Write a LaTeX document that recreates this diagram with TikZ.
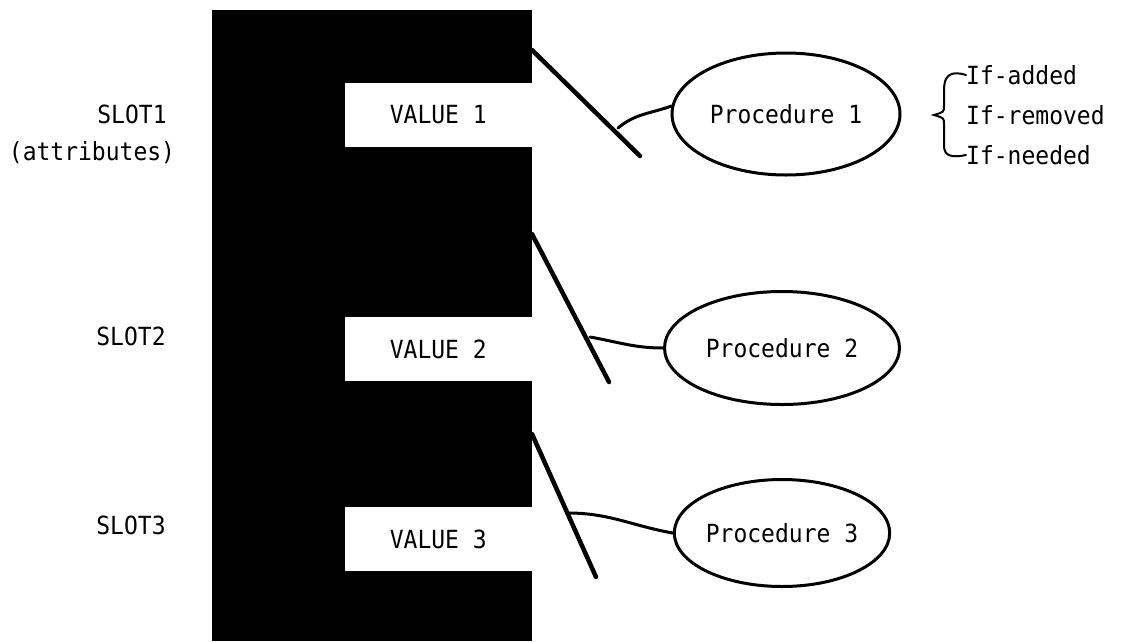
\documentclass[tikz,border=0pt]{standalone}
\usepackage{fontspec}
\setmonofont[FakeStretch=0.92]{DejaVu Sans Mono}
\usetikzlibrary{shapes.geometric}
\tikzset{
  lbl/.style={font=\ttfamily\fontsize{25}{29}\selectfont, inner sep=0pt},
  valbox/.style={lbl, fill=white, minimum width=187pt, minimum height=64pt, anchor=east},
  proc/.style={lbl, ellipse, draw, line width=3pt},
  spine/.style={line width=4.5pt, line cap=round},
  link/.style={line width=3pt, line cap=round},
}
\begin{document}
\begin{tikzpicture}[x=1pt,y=-1pt]
\useasboundingbox (0,0) rectangle (1122,641);

% the frame
\fill[black] (212,10) rectangle (532,641);

% slot values cut into the frame
\node[valbox] (v1) at (532,115) {VALUE 1};
\node[valbox] (v2) at (532,349) {VALUE 2};
\node[valbox] (v3) at (532,539) {VALUE 3};

% slot names
\node[lbl] (s1) at (132,114) {SLOT1};
\node[lbl] (s1a) at (92,153) {(attributes)};
\node[lbl] (s2) at (131,336) {SLOT2};
\node[lbl] (s3) at (131,525) {SLOT3};

% attached procedures
\node[proc, minimum width=228pt, minimum height=122pt] (p1) at (786,114) {Procedure 1};
\node[proc, minimum width=235pt, minimum height=113pt] (p2) at (782,348) {Procedure 2};
\node[proc, minimum width=215pt, minimum height=107pt] (p3) at (782,533) {Procedure 3};

% hooks from the frame to each procedure
\coordinate (t1) at (532,50);  \coordinate (e1) at (640,156); \coordinate (b1) at (618,128);
\coordinate (t2) at (532,234); \coordinate (e2) at (609,382); \coordinate (b2) at (590,337);
\coordinate (t3) at (532,434); \coordinate (e3) at (596,577); \coordinate (b3) at (568,513);
\draw[spine] (t1) -- (e1);
\draw[spine] (t2) -- (e2);
\draw[spine] (t3) -- (e3);
\draw[link] (b1) to[out=40, in=200] (p1.176);
\draw[link] (b2) to[out=-10, in=180] (p2.west);
\draw[link] (b3) to[out=0, in=170] (p3.west);

% demon types
\node[lbl, anchor=west] (d1) at (966,75) {If-added};
\node[lbl, anchor=west] (d2) at (966,115) {If-removed};
\node[lbl, anchor=west] (d3) at (966,155) {If-needed};
\draw[line width=2pt, line cap=round]
  (d1.west) .. controls (950,70) and (944,76) .. (944,90)
  -- (944,106) .. controls (944,112) .. (934,115)
  .. controls (944,118) .. (944,124)
  -- (944,146) .. controls (944,156) and (952,158) .. (d3.west);
\end{tikzpicture}
\end{document}
